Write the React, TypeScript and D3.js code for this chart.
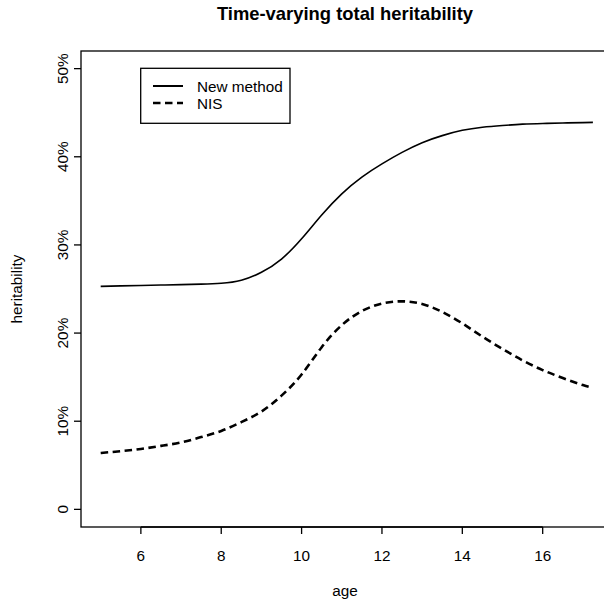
import React from "react";
import * as d3 from "d3";

const ages = [5, 5.5, 6, 6.5, 7, 7.5, 8, 8.5, 9, 9.5, 10, 10.5, 11, 11.5, 12, 12.5, 13, 13.5, 14, 14.5, 15, 15.5, 16, 16.5, 17, 17.25];
const newMethod = [25.3, 25.35, 25.4, 25.45, 25.5, 25.55, 25.65, 26.0, 26.9, 28.4, 30.7, 33.4, 35.8, 37.7, 39.2, 40.5, 41.6, 42.4, 43.0, 43.35, 43.55, 43.7, 43.78, 43.83, 43.88, 43.9];
const nis = [6.4, 6.6, 6.85, 7.2, 7.6, 8.2, 8.9, 9.9, 11.1, 12.9, 15.3, 18.4, 20.9, 22.5, 23.35, 23.6, 23.3, 22.4, 21.1, 19.6, 18.2, 16.9, 15.8, 14.9, 14.1, 13.8];
const xTicks = [6, 8, 10, 12, 14, 16];
const yTicks = [0, 0.1, 0.2, 0.3, 0.4, 0.5];
const yTickLabels = ["0", "10%", "20%", "30%", "40%", "50%"];
const seriesNames = ["New method", "NIS"];

const W = 604, H = 604;
const left = 81, top = 51, bottom = 527, right = 612.6;
const font = "'Liberation Sans', Arial, Helvetica, sans-serif";
const fs = 15.3;

export default function App() {
  const x = d3.scaleLinear().domain([4.51, 17.74]).range([left, right]);
  const y = d3.scaleLinear().domain([-0.02, 0.52]).range([bottom, top]);
  const line = d3.line<[number, number]>().x(d => x(d[0])).y(d => y(d[1] / 100)).curve(d3.curveNatural);
  const solidPath = line(ages.map((a, i) => [a, newMethod[i]]) as [number, number][]) || "";
  const dashPath = line(ages.map((a, i) => [a, nis[i]]) as [number, number][]) || "";
  return (
    <svg width={W} height={H} style={{ position: "absolute", left: 0, top: 0, background: "#fff" }} fontFamily={font}>
      <rect x={0} y={0} width={W} height={H} fill="#fff" />
      <text x={345} y={20} textAnchor="middle" fontWeight="bold" fontSize={18.4}>Time-varying total heritability</text>
      <rect x={left} y={top} width={right - left} height={bottom - top} fill="none" stroke="#000" strokeWidth={1.3} />
      <defs>
        <clipPath id="plotclip"><rect x={left} y={top} width={right - left} height={bottom - top} /></clipPath>
      </defs>
      <g clipPath="url(#plotclip)">
        <path d={solidPath} fill="none" stroke="#000" strokeWidth={1.6} />
        <path d={dashPath} fill="none" stroke="#000" strokeWidth={2.6} strokeDasharray="7.5,4.5" />
      </g>
      {/* x axis */}
      <line x1={x(xTicks[0])} x2={x(xTicks[xTicks.length - 1])} y1={bottom} y2={bottom} stroke="#000" strokeWidth={1.3} />
      {xTicks.map(t => (
        <g key={t}>
          <line x1={x(t)} x2={x(t)} y1={bottom} y2={bottom + 7} stroke="#000" strokeWidth={1.3} />
          <text x={x(t)} y={560.5} textAnchor="middle" fontSize={fs}>{t}</text>
        </g>
      ))}
      <text x={345} y={596} textAnchor="middle" fontSize={fs}>age</text>
      {/* y axis */}
      {yTicks.map((t, i) => (
        <g key={t}>
          <line x1={left} x2={left - 7} y1={y(t)} y2={y(t)} stroke="#000" strokeWidth={1.3} />
          <text transform={`translate(68,${y(t)}) rotate(-90)`} textAnchor="middle" fontSize={fs}>{yTickLabels[i]}</text>
        </g>
      ))}
      <text transform={`translate(22,${(top + bottom) / 2}) rotate(-90)`} textAnchor="middle" fontSize={fs}>heritability</text>
      {/* legend */}
      <rect x={140.7} y={68.3} width={149.3} height={55} fill="#fff" stroke="#000" strokeWidth={1.3} />
      <line x1={153} x2={183} y1={86} y2={86} stroke="#000" strokeWidth={2} />
      <line x1={153} x2={183} y1={103} y2={103} stroke="#000" strokeWidth={2.6} strokeDasharray="7.5,4.5" />
      <text x={197} y={91.5} fontSize={fs}>{seriesNames[0]}</text>
      <text x={197} y={108.5} fontSize={fs}>{seriesNames[1]}</text>
    </svg>
  );
}
